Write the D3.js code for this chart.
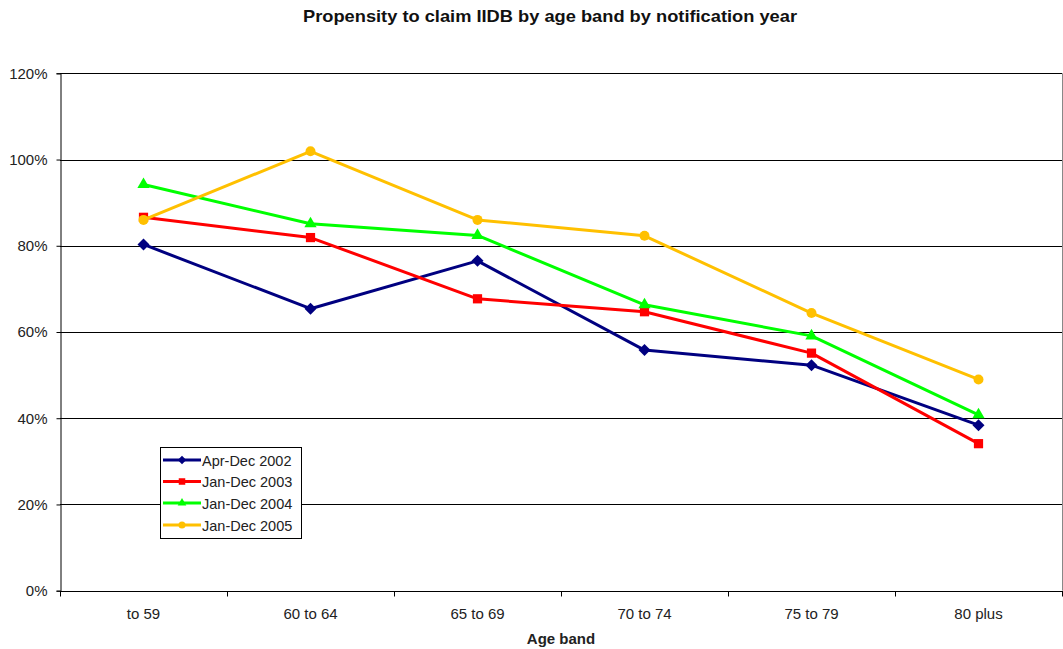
<!DOCTYPE html>
<html>
<head>
<meta charset="utf-8">
<script src="https://cdn.jsdelivr.net/npm/d3@7"></script>
<style>
  html, body { margin: 0; padding: 0; background: #fff; }
  svg { display: block; font-family: "Liberation Sans", Arial, sans-serif; }
</style>
</head>
<body>
<svg id="chart" width="1063" height="649"></svg>
<script>
// Age bands along the x axis
const ageBands = ["to 59", "60 to 64", "65 to 69", "70 to 74", "75 to 79", "80 plus"];

// Propensity to claim (%) per notification year
const aprDec2002 = [80.3, 65.4, 76.5, 55.8, 52.3, 38.4];
const janDec2003 = [86.6, 81.9, 67.7, 64.7, 55.1, 34.1];
const janDec2004 = [94.2, 85.1, 82.4, 66.3, 59.1, 40.8];
const janDec2005 = [86.0, 101.9, 86.0, 82.3, 64.4, 49.0];

const seriesNames = ["Apr-Dec 2002", "Jan-Dec 2003", "Jan-Dec 2004", "Jan-Dec 2005"];
const yTicks = [0, 20, 40, 60, 80, 100, 120];

// Diamond markers are squares turned 45 degrees
const series = [
  { name: seriesNames[0], values: aprDec2002, color: "#000080", symbol: d3.symbolSquare, size: 72, rotate: 45 },
  { name: seriesNames[1], values: janDec2003, color: "#FF0000", symbol: d3.symbolSquare, size: 85, rotate: 0 },
  { name: seriesNames[2], values: janDec2004, color: "#00FF00", symbol: d3.symbolTriangle, size: 65, rotate: 0 },
  { name: seriesNames[3], values: janDec2005, color: "#FFC000", symbol: d3.symbolCircle, size: 78, rotate: 0 }
];

const svg = d3.select("#chart");
const plot = { left: 60, right: 1062, top: 73.3, bottom: 590.7 };

const x = d3.scaleBand().domain(ageBands).range([plot.left, plot.right]);
const y = d3.scaleLinear().domain([0, 120]).range([plot.bottom, plot.top]);

// Title
svg.append("text")
  .attr("x", 303).attr("y", 22)
  .attr("font-size", 16.5).attr("font-weight", "bold")
  .attr("fill", "#111")
  .attr("textLength", 494).attr("lengthAdjust", "spacingAndGlyphs")
  .text("Propensity to claim IIDB by age band by notification year");

// Horizontal gridlines
svg.append("g")
  .selectAll("line")
  .data(yTicks.filter(t => t > 0))
  .join("line")
  .attr("x1", plot.left).attr("x2", plot.right)
  .attr("y1", d => Math.round(y(d)) + 0.5).attr("y2", d => Math.round(y(d)) + 0.5)
  .attr("stroke", "#000").attr("stroke-width", 1);

// Right border of plot area
svg.append("line")
  .attr("x1", plot.right + 0.5).attr("x2", plot.right + 0.5)
  .attr("y1", plot.top).attr("y2", plot.bottom)
  .attr("stroke", "#888").attr("stroke-width", 1);

// Y axis
const yAxis = svg.append("g")
  .attr("transform", `translate(${plot.left + 0.5},0)`)
  .call(d3.axisLeft(y).tickValues(yTicks).tickFormat(d => d + "%").tickSize(4).tickPadding(9));
yAxis.select(".domain").attr("stroke", "#000");
yAxis.selectAll(".tick line").attr("stroke", "#000");
yAxis.selectAll(".tick text")
  .attr("font-size", 15).attr("fill", "#222")
  .attr("font-family", "Liberation Sans, Arial, sans-serif");

// X axis: tick marks sit on band boundaries, labels at band centres
const xAxisG = svg.append("g").attr("transform", `translate(0,${Math.round(plot.bottom) + 0.5})`);
xAxisG.append("line")
  .attr("x1", plot.left).attr("x2", plot.right + 1)
  .attr("stroke", "#000").attr("stroke-width", 1);
const boundaries = ageBands.map(b => x(b)).concat([plot.right]);
xAxisG.selectAll("line.tick")
  .data(boundaries)
  .join("line")
  .attr("class", "tick")
  .attr("x1", d => Math.round(d) + 0.5).attr("x2", d => Math.round(d) + 0.5)
  .attr("y1", 0).attr("y2", 5)
  .attr("stroke", "#000");
xAxisG.selectAll("text")
  .data(ageBands)
  .join("text")
  .attr("x", d => x(d) + x.bandwidth() / 2)
  .attr("y", 27)
  .attr("text-anchor", "middle")
  .attr("font-size", 15).attr("fill", "#222")
  .text(d => d);

// X axis title
svg.append("text")
  .attr("x", (plot.left + plot.right) / 2).attr("y", 644)
  .attr("text-anchor", "middle")
  .attr("font-size", 15).attr("font-weight", "bold").attr("fill", "#222")
  .text("Age band");

// Lines and markers
const line = d3.line()
  .x((d, i) => x(ageBands[i]) + x.bandwidth() / 2)
  .y(d => y(d));

series.forEach(s => {
  const g = svg.append("g");
  g.append("path")
    .attr("d", line(s.values))
    .attr("fill", "none")
    .attr("stroke", s.color)
    .attr("stroke-width", 3)
    .attr("stroke-linejoin", "round");
  g.selectAll("path.marker")
    .data(s.values)
    .join("path")
    .attr("class", "marker")
    .attr("transform", (d, i) => `translate(${x(ageBands[i]) + x.bandwidth() / 2},${y(d)}) rotate(${s.rotate})`)
    .attr("d", d3.symbol().type(s.symbol).size(s.size))
    .attr("fill", s.color);
});

// Legend
const legend = svg.append("g");
legend.append("rect")
  .attr("x", 160.5).attr("y", 447.5)
  .attr("width", 141).attr("height", 91)
  .attr("fill", "#fff").attr("stroke", "#000").attr("stroke-width", 1);
const rowY = [460, 481.5, 503, 525];
series.forEach((s, i) => {
  legend.append("line")
    .attr("x1", 163).attr("x2", 201)
    .attr("y1", rowY[i]).attr("y2", rowY[i])
    .attr("stroke", s.color).attr("stroke-width", 3);
  legend.append("path")
    .attr("transform", `translate(182,${rowY[i]}) rotate(${s.rotate})`)
    .attr("d", d3.symbol().type(s.symbol).size(s.size * 0.5))
    .attr("fill", s.color);
  legend.append("text")
    .attr("x", 202).attr("y", rowY[i] + 5.5)
    .attr("font-size", 14.5).attr("fill", "#222")
    .text(s.name);
});
</script>
</body>
</html>
